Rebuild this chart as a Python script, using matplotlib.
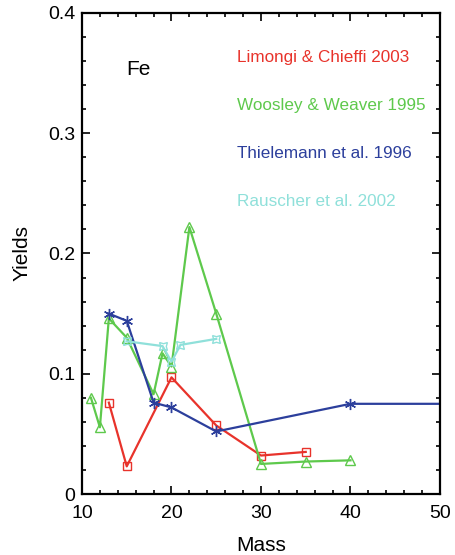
import matplotlib
matplotlib.use('Agg')
import matplotlib.pyplot as plt
from matplotlib.ticker import MultipleLocator, FuncFormatter

plt.rcParams['font.family'] = ['Liberation Sans', 'DejaVu Sans']

# Fe yields vs progenitor mass
lc_mass = [13, 15, 20, 25, 30, 35]
lc_fe = [0.076, 0.023, 0.097, 0.057, 0.032, 0.035]

ww_mass = [11, 12, 13, 15, 18, 19, 20, 22, 25, 30, 35, 40]
ww_fe = [0.080, 0.0555, 0.146, 0.130, 0.083, 0.117, 0.106, 0.222, 0.150, 0.025, 0.027, 0.028]

th_mass = [13, 15, 18, 20, 25, 40, 70]
th_fe = [0.150, 0.144, 0.076, 0.072, 0.052, 0.075, 0.075]

ra_mass = [15, 19, 20, 21, 25]
ra_fe = [0.127, 0.123, 0.110, 0.124, 0.129]

labels = ['Limongi & Chieffi 2003', 'Woosley & Weaver 1995',
          'Thielemann et al. 1996', 'Rauscher et al. 2002']

red = '#e8332b'
green = '#5ec94c'
blue = '#2c3f9c'
cyan = '#8fe0da'

fig = plt.figure(figsize=(4.55, 5.55), dpi=100)
ax = fig.add_axes([0.1802, 0.1099, 0.7868, 0.8667])

ax.plot(lc_mass, lc_fe, color=red, lw=1.6, marker='s', ms=6,
        mfc='none', mec=red, mew=1.0)
ax.plot(ww_mass, ww_fe, color=green, lw=1.6, marker='^', ms=7,
        mfc='none', mec=green, mew=1.0)
ax.plot(th_mass, th_fe, color=blue, lw=1.6, marker=(6, 2, 0), ms=8,
        mec=blue, mew=1.0)
ax.plot(ra_mass, ra_fe, color=cyan, lw=1.6, marker=(4, 1, 45), ms=8,
        mfc='none', mec=cyan, mew=1.0)

ax.set_xlim(10, 50)
ax.set_ylim(0, 0.4)
ax.xaxis.set_major_locator(MultipleLocator(10))
ax.xaxis.set_minor_locator(MultipleLocator(2))
ax.yaxis.set_major_locator(MultipleLocator(0.1))
ax.yaxis.set_minor_locator(MultipleLocator(0.02))
ax.yaxis.set_major_formatter(FuncFormatter(lambda v, p: '0' if abs(v) < 1e-9 else f'{v:.1f}'))
ax.tick_params(which='both', direction='in', top=True, right=True,
               labelsize=14, width=1.2)
ax.tick_params(which='major', length=6)
ax.tick_params(which='minor', length=3)
ax.tick_params(axis='x', which='major', pad=8)
ax.tick_params(axis='y', which='major', pad=5)
for s in ax.spines.values():
    s.set_linewidth(1.6)

ax.set_xlabel('Mass', fontsize=15, labelpad=10)
ax.set_ylabel('Yields', fontsize=15, labelpad=12)

ax.text(14.9, 0.353, 'Fe', fontsize=15, va='center', ha='left')
for lab, col, yy in zip(labels, [red, green, blue, cyan],
                        [0.363, 0.323, 0.283, 0.243]):
    ax.text(27.3, yy, lab, color=col, fontsize=12.3, va='center', ha='left')

fig.savefig('out.png', dpi=100)
